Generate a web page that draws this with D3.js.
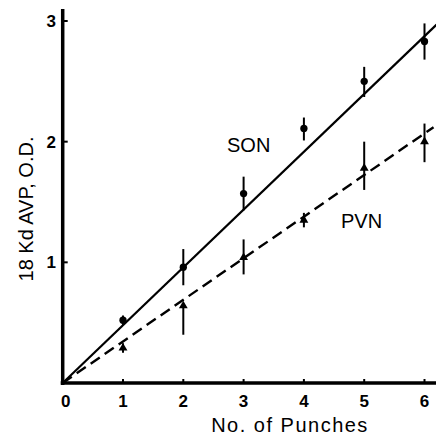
<!DOCTYPE html>
<html>
<head>
<meta charset="utf-8">
<script src="https://cdn.jsdelivr.net/npm/d3@7"></script>
<style>
  body { margin: 0; background: #fff; }
  text { font-family: Arial, "Liberation Sans", Helvetica, sans-serif; fill: #000; }
</style>
</head>
<body>
<svg></svg>
<script>
let width = 436
let height = 438

// data
let punches = [1, 2, 3, 4, 5, 6]
let sonMean = [0.52, 0.96, 1.57, 2.11, 2.50, 2.83]
let sonLow = [0.48, 0.81, 1.43, 2.01, 2.37, 2.68]
let sonHigh = [0.56, 1.11, 1.71, 2.20, 2.62, 2.98]
let pvnMean = [0.29, 0.64, 1.04, 1.35, 1.78, 2.00]
let pvnLow = [0.25, 0.40, 0.90, 1.29, 1.60, 1.83]
let pvnHigh = [0.33, 0.66, 1.19, 1.41, 2.00, 2.15]
let sonFit = [[0, 0], [6.2, 2.97]]
let pvnFit = [[0, 0], [6.15, 2.12]]
let xTicks = [0, 1, 2, 3, 4, 5, 6]
let yTicks = [1, 2, 3]

let svg = d3.select('svg')
    .attr('width', width)
    .attr('height', height)

let x = d3.scaleLinear().domain([0, 6]).range([62.7, 424.5])
let y = d3.scaleLinear().domain([0, 3]).range([383, 21])

let line = d3.line().x(d => x(d[0])).y(d => y(d[1]))

// fitted lines
svg.append('path')
    .attr('d', line(sonFit))
    .attr('fill', 'none')
    .attr('stroke', '#000')
    .attr('stroke-width', 2.2)
svg.append('path')
    .attr('d', line(pvnFit))
    .attr('fill', 'none')
    .attr('stroke', '#000')
    .attr('stroke-width', 2.4)
    .attr('stroke-dasharray', '11,6')

function drawSeries(mean, low, high, symbol) {
    let g = svg.append('g')
    g.selectAll('line')
        .data(punches).enter()
        .append('line')
        .attr('x1', d => x(d))
        .attr('x2', d => x(d))
        .attr('y1', (d, i) => y(low[i]))
        .attr('y2', (d, i) => y(high[i]))
        .attr('stroke', '#000')
        .attr('stroke-width', 2)
    g.selectAll('path')
        .data(punches).enter()
        .append('path')
        .attr('transform', (d, i) => `translate(${x(d)},${y(mean[i])})`)
        .attr('d', d3.symbol().type(symbol).size(symbol === d3.symbolCircle ? 42 : 34))
        .attr('fill', '#000')
}
drawSeries(sonMean, sonLow, sonHigh, d3.symbolCircle)
drawSeries(pvnMean, pvnLow, pvnHigh, d3.symbolTriangle)

// axes
svg.append('line')
    .attr('x1', x(0)).attr('x2', x(0))
    .attr('y1', 9).attr('y2', y(0) + 2)
    .attr('stroke', '#000').attr('stroke-width', 3.5)
svg.append('line')
    .attr('x1', x(0) - 2).attr('x2', 436)
    .attr('y1', y(0)).attr('y2', y(0))
    .attr('stroke', '#000').attr('stroke-width', 3.5)

svg.append('g').selectAll('line')
    .data(yTicks).enter()
    .append('line')
    .attr('x1', x(0)).attr('x2', x(0) + 5)
    .attr('y1', d => y(d)).attr('y2', d => y(d))
    .attr('stroke', '#000').attr('stroke-width', 2)
svg.append('g').selectAll('line')
    .data(xTicks.slice(1)).enter()
    .append('line')
    .attr('x1', d => x(d)).attr('x2', d => x(d))
    .attr('y1', y(0)).attr('y2', y(0) - 4)
    .attr('stroke', '#000').attr('stroke-width', 2)

svg.append('g').selectAll('text')
    .data(yTicks).enter()
    .append('text')
    .attr('x', 56)
    .attr('y', d => y(d) + 6)
    .attr('text-anchor', 'end')
    .attr('font-size', 17)
    .attr('font-weight', 'bold')
    .text(d => d)
svg.append('g').selectAll('text')
    .data(xTicks).enter()
    .append('text')
    .attr('x', d => x(d) + (d === 0 ? 3 : 0))
    .attr('y', 407)
    .attr('text-anchor', 'middle')
    .attr('font-size', 17)
    .attr('font-weight', 'bold')
    .text(d => d)

svg.append('text')
    .attr('x', 290)
    .attr('y', 432)
    .attr('text-anchor', 'middle')
    .attr('font-size', 20)
    .attr('letter-spacing', 1.5)
    .text('No. of Punches')

svg.append('text')
    .attr('transform', 'translate(33,209) rotate(-90)')
    .attr('text-anchor', 'middle')
    .attr('font-size', 20)
    .text('18 Kd AVP, O.D.')

svg.append('text')
    .attr('x', 227)
    .attr('y', 152)
    .attr('font-size', 20)
    .text('SON')
svg.append('text')
    .attr('x', 341)
    .attr('y', 228)
    .attr('font-size', 20)
    .text('PVN')
</script>
</body>
</html>
